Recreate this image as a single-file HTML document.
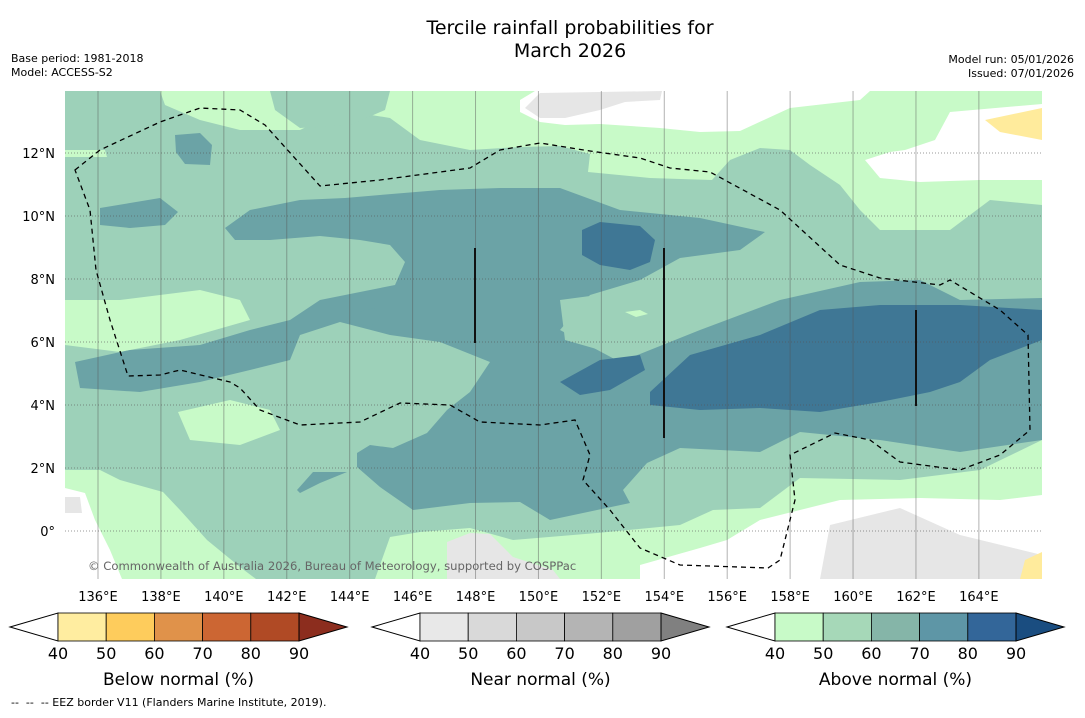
<!DOCTYPE html>
<html><head><meta charset="utf-8"><style>
body{margin:0;background:#fff;width:1085px;height:713px;overflow:hidden;font-family:"Liberation Sans","DejaVu Sans",sans-serif}
svg text{font-family:"DejaVu Sans","Liberation Sans",sans-serif}
</style></head><body>
<svg width="1085" height="713">
<text x="570" y="34" font-size="19" text-anchor="middle">Tercile rainfall probabilities for</text>
<text x="570" y="57" font-size="19" text-anchor="middle">March 2026</text>
<text x="11" y="62" font-size="11">Base period: 1981-2018</text>
<text x="11" y="76" font-size="11">Model: ACCESS-S2</text>
<text x="1074" y="63" font-size="11" text-anchor="end">Model run: 05/01/2026</text>
<text x="1074" y="77" font-size="11" text-anchor="end">Issued: 07/01/2026</text>
<defs><clipPath id="mc"><rect x="65" y="91" width="977" height="488"/></clipPath></defs>
<g clip-path="url(#mc)">
<rect x="65" y="91" width="977" height="488" fill="#c8fac8"/>
<g id="shapes"></g>
<g id="grid"></g>
<path id="eez" fill="none" stroke="#000" stroke-width="1.3" stroke-dasharray="5,4"/>
<line x1="475" y1="248" x2="475" y2="343" stroke="#111" stroke-width="2"/>
<line x1="664" y1="248" x2="664" y2="438" stroke="#111" stroke-width="2"/>
<line x1="916" y1="310" x2="916" y2="406" stroke="#111" stroke-width="2"/>
<text x="88" y="570" font-size="11.6" fill="#666">© Commonwealth of Australia 2026, Bureau of Meteorology, supported by COSPPac</text>
</g>
<g id="ticks"></g>
<g id="cbars"></g>
<text x="11" y="706" font-size="11" xml:space="preserve">--  --  -- EEZ border V11 (Flanders Marine Institute, 2019).</text>
</svg>
<script>
const NS='http://www.w3.org/2000/svg';
const lonTicks=[136,138,140,142,144,146,148,150,152,154,156,158,160,162,164];
const latTicks=[12,10,8,6,4,2,0];
const X=lon=>98+(lon-136)*31.46;
const Y=lat=>531-lat*31.5;
function mk(tag,attrs,parent){const e=document.createElementNS(NS,tag);for(const k in attrs)e.setAttribute(k,attrs[k]);parent.appendChild(e);return e;}
const shapes=document.getElementById('shapes');
const L=[
['#ffffff','white-top','520,100 535,91 870,91 860,100 790,108 740,131 700,132 660,128 600,124 565,125 540,122 520,112'],
['#ffffff','white-top-right','950,112 1042,104 1042,180 980,180 920,182 880,178 865,160 890,152 905,150 935,140'],
['#ffffff','white-bottom','640,565 700,548 727,540 760,520 840,500 920,498 1000,500 1042,495 1042,579 640,579'],
['#ffffff','white-bottom-left','65,488 85,493 95,520 110,550 122,579 65,579'],
['#9dd1b9','mid-green-main','65,91 160,91 165,105 200,120 240,130 300,130 340,110 390,118 420,140 470,150 520,147 560,146 590,154 588,172 650,178 712,180 730,160 760,148 790,150 810,165 840,185 860,210 880,230 950,230 990,200 1042,205 1042,440 980,470 900,480 800,478 760,508 713,510 680,525 597,533 513,540 470,528 420,532 390,537 375,579 256,579 240,567 207,540 198,530 180,510 163,492 120,480 100,470 65,470'],
['#9dd1b9','mid-green-top','270,91 390,91 385,110 350,125 300,128 275,110'],
['#c8fac8','light-band-left','65,300 120,300 200,290 240,300 250,320 180,340 120,352 65,345'],
['#c8fac8','light-patch-lower','178,412 230,400 270,410 280,430 240,445 190,440'],
['#c8fac8','light-patch-topleft','65,150 105,150 107,157 65,157'],
['#6ba3a6','teal-main','225,228 250,210 300,200 345,198 380,195 440,190 500,188 560,188 620,210 700,218 765,232 740,250 680,258 640,280 590,295 560,330 620,362 700,330 780,300 860,282 920,280 960,300 1042,298 1042,440 960,452 880,440 800,432 760,452 680,448 647,463 623,490 630,503 550,520 520,502 470,503 413,510 380,487 357,467 357,453 370,445 393,448 427,433 447,410 470,392 490,362 440,342 390,335 340,322 300,335 290,360 250,370 200,382 140,392 80,388 75,362 130,350 200,345 250,330 290,320 320,300 370,290 395,285 405,262 390,245 360,240 320,236 270,240 235,240'],
['#6ba3a6','teal-left-patch','100,208 160,198 178,212 165,225 130,228 100,225'],
['#6ba3a6','teal-small-1','358,312 375,308 381,318 370,327 358,324'],
['#6ba3a6','teal-small-2','297,490 313,472 347,472 320,483 300,493'],
['#9dd1b9','mid-green-inner','560,300 620,292 660,295 665,340 640,352 600,350 565,340'],
['#c8fac8','light-pocket','625,312 640,310 648,314 636,317'],
['#6ba3a6','teal-top-left','175,135 200,133 212,145 210,165 185,164 176,152'],
['#3f7795','dark-patch-north','582,230 600,222 640,226 655,240 650,262 630,270 600,265 582,255'],
['#3f7795','dark-patch-mid','560,382 600,360 640,355 645,370 610,390 580,395'],
['#3f7795','dark-main-east','650,392 690,355 760,335 820,310 880,305 960,305 1042,310 1042,340 990,360 960,382 930,392 880,402 820,412 760,408 700,410 650,405'],
['#e6e6e6','land-top','525,108 540,93 662,91 660,100 625,102 600,110 565,118 540,118'],
['#e6e6e6','land-bottom-mid','447,542 470,533 490,534 513,557 553,570 560,579 447,579'],
['#e6e6e6','land-bottom-left','65,497 80,497 82,513 65,513'],
['#e6e6e6','land-bottom-east','830,525 900,508 960,535 1042,555 1042,579 820,579'],
['#ffeb9c','yellow-top-right','985,120 1042,108 1042,140 1000,132'],
['#ffeb9c','yellow-bottom-right','1025,560 1042,552 1042,579 1020,579']
];
L.forEach(s=>{const p=mk('polygon',{points:s[2],fill:s[0]},shapes);

});
const grid=document.getElementById('grid');
lonTicks.forEach(v=>{const l=mk('line',{x1:X(v),x2:X(v),y1:91,y2:579,stroke:'#555','stroke-opacity':0.45,'stroke-width':1},grid);

});
latTicks.forEach(v=>{const l=mk('line',{x1:65,x2:1042,y1:Y(v),y2:Y(v),stroke:'#555','stroke-opacity':0.6,'stroke-dasharray':'1,2'},grid);

});
document.getElementById('eez').setAttribute('d','M75,170 L100,150 160,122 200,108 240,110 265,125 320,186 380,180 470,168 500,150 540,143 590,151 640,158 670,168 710,172 780,210 840,265 880,278 940,285 950,280 1000,310 1028,335 1030,430 1000,455 960,470 900,462 870,440 835,433 790,455 795,500 780,560 768,568 680,565 640,548 610,510 583,480 590,455 575,420 540,425 480,422 450,405 400,403 360,422 300,425 260,410 240,388 230,382 180,370 160,375 128,376 110,320 96,270 90,210 Z');
const ticks=document.getElementById('ticks');
lonTicks.forEach(v=>{const t=mk('text',{x:X(v),y:601,'font-size':13,'text-anchor':'middle'},ticks);t.textContent=v+'°E';

});
latTicks.forEach(v=>{const t=mk('text',{x:55,y:Y(v)+5,'font-size':13,'text-anchor':'end'},ticks);t.textContent=v===0?'0°':v+'°N';

});
const cbLabels=[40,50,60,70,80,90];
const bars=[
{x:10,title:'Below normal (%)',name:'below',cols:['#ffeda0','#fecc5c','#e0924a','#cc6633','#b04a25','#8c2d1e']},
{x:372,title:'Near normal (%)',name:'near',cols:['#e8e8e8','#d9d9d9','#c8c8c8','#b4b4b4','#a0a0a0','#808080']},
{x:727,title:'Above normal (%)',name:'above',cols:['#c8fac8','#a6d8b8','#85b5a8','#5e96a6','#336699','#1a4d80']}
];
const cb=document.getElementById('cbars');
bars.forEach(b=>{const g=mk('g',{},cb);


const x0=b.x+48,w=48.2,y0=613,h=28;
mk('polygon',{points:`${b.x},627 ${x0},${y0} ${x0},${y0+h}`,fill:'#fff',stroke:'#000','stroke-width':1},g);
b.cols.slice(0,5).forEach((c,i)=>mk('rect',{x:x0+i*w,y:y0,width:w,height:h,fill:c,stroke:'#000','stroke-width':0.8},g));
const xe=x0+5*w;
mk('polygon',{points:`${xe},${y0} ${xe+48},627 ${xe},${y0+h}`,fill:b.cols[5],stroke:'#000','stroke-width':1},g);
cbLabels.forEach((v,i)=>{const t=mk('text',{x:x0+i*w,y:659,'font-size':16,'text-anchor':'middle'},g);t.textContent=v;});
const t=mk('text',{x:x0+2.5*w,y:685,'font-size':17,'text-anchor':'middle'},g);t.textContent=b.title;
});
</script>
</body></html>
